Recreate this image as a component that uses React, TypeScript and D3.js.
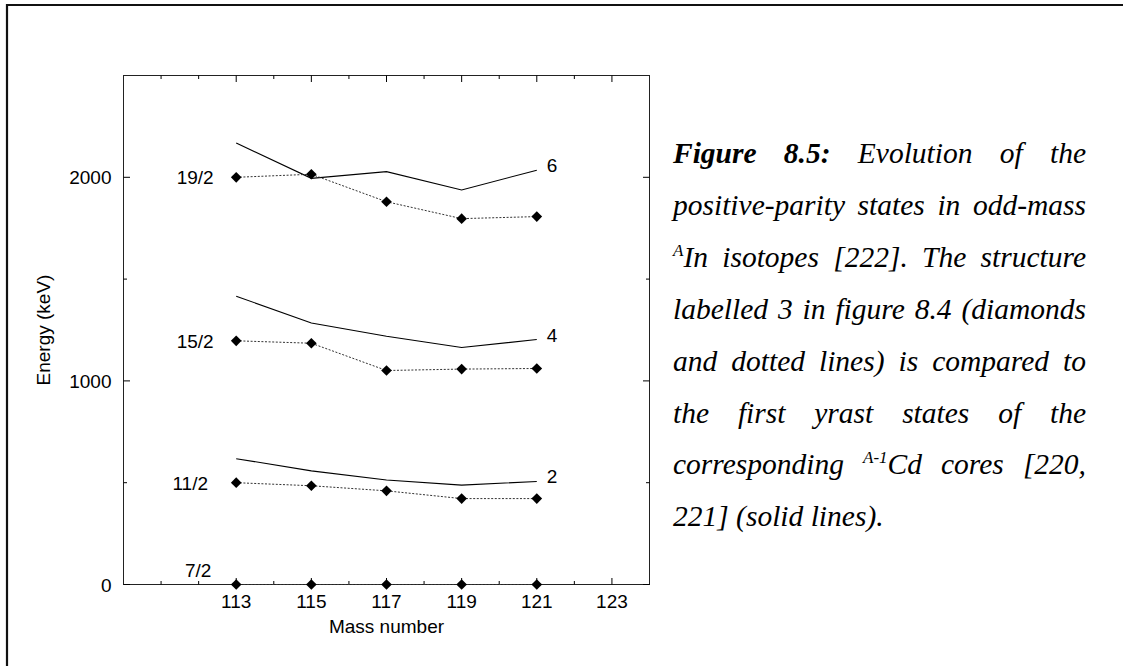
import React from 'react';
import * as d3 from 'd3';

// Mass numbers of the odd-A In isotopes
const massNumbers = [113, 115, 117, 119, 121];

// Positive-parity In states, keV (diamonds, dotted)
const in7half = [0, 0, 0, 0, 0];
const in11half = [500, 485, 460, 422, 422];
const in15half = [1197, 1185, 1051, 1058, 1061];
const in19half = [2000, 2015, 1880, 1797, 1807];

// First yrast states of the A-1 Cd cores, keV (solid)
const cd2plus = [618, 558, 513, 488, 506];
const cd4plus = [1416, 1284, 1219, 1164, 1203];
const cd6plus = [2168, 1995, 2028, 1938, 2035];

const xMajorTicks = [113, 115, 117, 119, 121, 123];
const xMinorTicks = [111, 112, 114, 116, 118, 120, 122];
const yMajorTicks = [0, 1000, 2000];
const yMinorTicks = [500, 1500];

const spinLabels = ['7/2', '11/2', '15/2', '19/2'];
const coreLabels = ['2', '4', '6'];
// label anchors in data units (mass number, keV)
const spinLabelAnchors = [
  [112.34, 69],
  [112.25, 500],
  [112.4, 1197],
  [112.4, 2000],
];

const captionLines = [
  '**Figure** **8.5:** Evolution of the',
  'positive-parity states in odd-mass',
  '^A^In isotopes [222]. The structure',
  'labelled 3 in figure 8.4 (diamonds',
  'and dotted lines) is compared to',
  'the first yrast states of the',
  'corresponding ^A-1^Cd cores [220,',
  '221] (solid lines).',
];

type Run = { t: string; bold?: boolean; sup?: boolean };

const SANS = '"Liberation Sans", Arial, Helvetica, sans-serif';
const SERIF = '"Liberation Serif", "Times New Roman", serif';
const CAP_SIZE = 29.5;
const SUP_SIZE = 17;

function parseWord(word: string): Run[] {
  const runs: Run[] = [];
  const re = /\*\*(.+?)\*\*|\^(.+?)\^|([^*^]+)/g;
  let m: RegExpExecArray | null;
  while ((m = re.exec(word))) {
    if (m[1]) runs.push({ t: m[1], bold: true });
    else if (m[2]) runs.push({ t: m[2], sup: true });
    else runs.push({ t: m[3] });
  }
  return runs;
}

let measureCtx: CanvasRenderingContext2D | null = null;
function runWidth(r: Run): number {
  if (!measureCtx) measureCtx = document.createElement('canvas').getContext('2d');
  const ctx = measureCtx!;
  ctx.font = `italic ${r.bold ? 'bold ' : ''}${r.sup ? SUP_SIZE : CAP_SIZE}px "Liberation Serif"`;
  return ctx.measureText(r.t).width;
}

function Caption() {
  const left = 673;
  const right = 1086;
  const top = 163;
  const lineGap = 51.9;
  const els: React.ReactNode[] = [];
  captionLines.forEach((line, li) => {
    const words = line.split(' ').map(parseWord);
    const widths = words.map((w) => w.reduce((s, r) => s + runWidth(r), 0));
    const total = widths.reduce((a, b) => a + b, 0);
    const last = li === captionLines.length - 1;
    const spaceW = runWidth({ t: ' ' });
    const gap = last || words.length < 2 ? spaceW : (right - left - total) / (words.length - 1);
    const base = top + li * lineGap;
    let cx = left;
    words.forEach((w, wi) => {
      let rx = cx;
      w.forEach((r, ri) => {
        els.push(
          <text
            key={`${li}-${wi}-${ri}`}
            x={rx}
            y={r.sup ? base - 11 : base}
            fontFamily={SERIF}
            fontStyle="italic"
            fontWeight={r.bold ? 'bold' : 'normal'}
            fontSize={r.sup ? SUP_SIZE : CAP_SIZE}
            fill="#000"
          >
            {r.t}
          </text>
        );
        rx += runWidth(r);
      });
      cx += widths[wi] + gap;
    });
  });
  return <g>{els}</g>;
}

export default function App() {
  const W = 1123;
  const H = 666;
  const x = d3.scaleLinear().domain([110, 124]).range([123.5, 649.5]);
  const y = d3.scaleLinear().domain([0, 2500]).range([584.5, 75.5]);
  const [x0, x1] = x.range();
  const [y0, y1] = y.range();

  const line = d3
    .line<number>()
    .x((_, i) => x(massNumbers[i]))
    .y((d) => y(d));

  const inSeries = [in7half, in11half, in15half, in19half];
  const cdSeries = [cd2plus, cd4plus, cd6plus];
  const diamond = d3.symbol().type(d3.symbolSquare).size(57)()!;

  const majorLen = 6.5;
  const minorLen = 3.5;

  return (
    <svg
      width={W}
      height={H}
      style={{ position: 'absolute', left: 0, top: 0, background: '#fff' }}
    >
      <rect x={0} y={0} width={W} height={H} fill="#fff" />
      {/* page frame */}
      <line x1={6} y1={5} x2={W} y2={5} stroke="#111" strokeWidth={2} />
      <line x1={7} y1={4} x2={7} y2={H} stroke="#111" strokeWidth={2.2} />

      {/* plot border */}
      <rect x={x0} y={y1} width={x1 - x0} height={y0 - y1} fill="none" stroke="#222" strokeWidth={1} />

      {/* x ticks, bottom and top */}
      {xMajorTicks.map((t) => (
        <g key={`xM${t}`}>
          <line x1={x(t)} x2={x(t)} y1={y0} y2={y0 - majorLen} stroke="#000" />
          <line x1={x(t)} x2={x(t)} y1={y1} y2={y1 + majorLen} stroke="#000" />
          <text x={x(t)} y={y0 + 23} textAnchor="middle" fontFamily={SANS} fontSize={19}>
            {t}
          </text>
        </g>
      ))}
      {xMinorTicks.map((t) => (
        <g key={`xm${t}`}>
          <line x1={x(t)} x2={x(t)} y1={y0} y2={y0 - minorLen} stroke="#000" />
          <line x1={x(t)} x2={x(t)} y1={y1} y2={y1 + minorLen} stroke="#000" />
        </g>
      ))}

      {/* y ticks, left and right */}
      {yMajorTicks.map((t) => (
        <g key={`yM${t}`}>
          <line x1={x0} x2={x0 + majorLen} y1={y(t)} y2={y(t)} stroke="#000" />
          <line x1={x1} x2={x1 - majorLen} y1={y(t)} y2={y(t)} stroke="#000" />
          <text x={x0 - 12} y={y(t) + 7} textAnchor="end" fontFamily={SANS} fontSize={19}>
            {t}
          </text>
        </g>
      ))}
      {yMinorTicks.map((t) => (
        <g key={`ym${t}`}>
          <line x1={x0} x2={x0 + minorLen} y1={y(t)} y2={y(t)} stroke="#000" />
          <line x1={x1} x2={x1 - minorLen} y1={y(t)} y2={y(t)} stroke="#000" />
        </g>
      ))}

      {/* axis titles */}
      <text x={(x0 + x1) / 2} y={633} textAnchor="middle" fontFamily={SANS} fontSize={19}>
        Mass number
      </text>
      <text
        transform={`translate(50, ${(y0 + y1) / 2}) rotate(-90)`}
        textAnchor="middle"
        fontFamily={SANS}
        fontSize={19}
      >
        Energy (keV)
      </text>

      {/* Cd core states */}
      {cdSeries.map((s, i) => (
        <g key={`cd${i}`}>
          <path d={line(s)!} fill="none" stroke="#000" strokeWidth={1.1} />
          <text
            x={x(massNumbers[massNumbers.length - 1]) + 10}
            y={y(s[s.length - 1]) + 2}
            fontFamily={SANS}
            fontSize={19}
          >
            {coreLabels[i]}
          </text>
        </g>
      ))}

      {/* In states */}
      {inSeries.map((s, i) => (
        <g key={`in${i}`}>
          <path d={line(s)!} fill="none" stroke="#333" strokeWidth={1} strokeDasharray="2 1.6" />
          {s.map((v, j) => (
            <path
              key={j}
              d={diamond}
              transform={`translate(${x(massNumbers[j])},${y(v)}) rotate(45)`}
              fill="#000"
            />
          ))}
          <text
            x={x(spinLabelAnchors[i][0])}
            y={y(spinLabelAnchors[i][1]) + 7}
            textAnchor="end"
            fontFamily={SANS}
            fontSize={19}
          >
            {spinLabels[i]}
          </text>
        </g>
      ))}

      <Caption />
    </svg>
  );
}
